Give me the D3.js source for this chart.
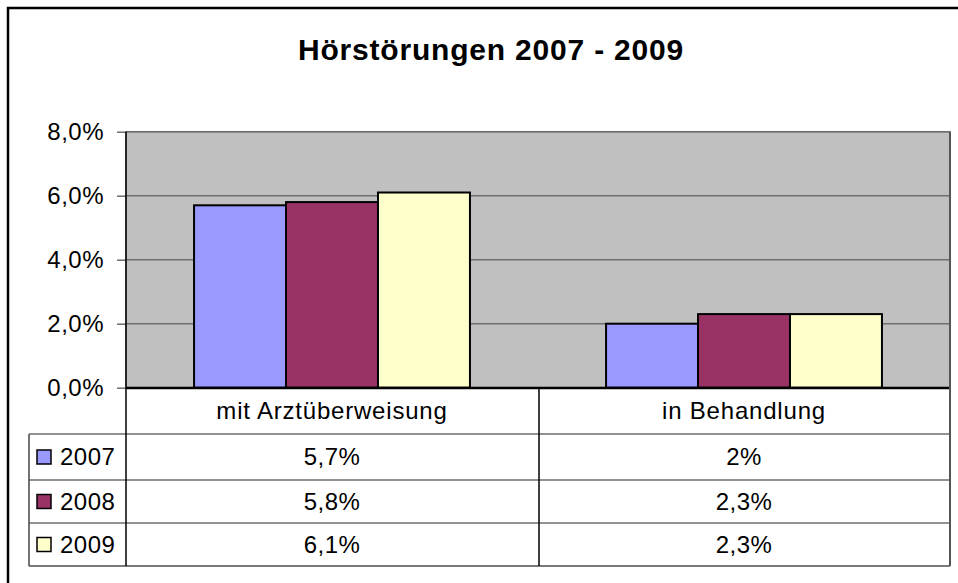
<!DOCTYPE html>
<html><head><meta charset="utf-8">
<script src="https://cdn.jsdelivr.net/npm/d3@7"></script>
<style>body{margin:0;background:#fff}svg{display:block;font-family:"Liberation Sans",Arial,sans-serif}</style>
</head><body><svg id="c" width="958" height="583"></svg>
<script>
const title = "Hörstörungen 2007 - 2009";
const categories = ["mit Arztüberweisung", "in Behandlung"];
const seriesNames = ["2007", "2008", "2009"];
const values2007 = [0.057, 0.02];
const values2008 = [0.058, 0.023];
const values2009 = [0.061, 0.023];
const tableLabels2007 = ["5,7%", "2%"];
const tableLabels2008 = ["5,8%", "2,3%"];
const tableLabels2009 = ["6,1%", "2,3%"];
const yTicks = [0, 0.02, 0.04, 0.06, 0.08];
const colors = ["#9999FF", "#993366", "#FFFFCC"];

const series = [
  {name: seriesNames[0], values: values2007, labels: tableLabels2007, color: colors[0]},
  {name: seriesNames[1], values: values2008, labels: tableLabels2008, color: colors[1]},
  {name: seriesNames[2], values: values2009, labels: tableLabels2009, color: colors[2]}
];

const svg = d3.select("#c");
const L = 126, R = 950, T = 131.7, B = 387.7;
const rowEdges = [388, 434, 480, 523, 566];
const tableLeft = 29, colDiv = 539;

// outer border
svg.append("path").attr("d", `M8,590 V8 H970`).attr("fill","none").attr("stroke","#000").attr("stroke-width",2.5);

svg.append("text").attr("x", 491).attr("y", 60).attr("text-anchor","middle")
  .attr("font-size", 30).attr("font-weight","bold").attr("letter-spacing", 0.8).text(title);

const x0 = d3.scaleBand().domain(categories).range([L, R]).paddingInner(0).paddingOuter(0);
const x1 = d3.scaleBand().domain(seriesNames).range([0, x0.bandwidth()]).paddingInner(0).paddingOuter(0.74);
const y = d3.scaleLinear().domain([0, 0.08]).range([B, T]);

// plot area
svg.append("rect").attr("x", L).attr("y", T).attr("width", R - L).attr("height", B - T)
  .attr("fill", "#C0C0C0").attr("stroke", "#808080").attr("stroke-width", 1.5);

// gridlines
svg.append("g").selectAll("line").data(yTicks.filter(d => d > 0)).join("line")
  .attr("x1", L).attr("x2", R).attr("y1", d => y(d)).attr("y2", d => y(d))
  .attr("stroke", "#6e6e6e").attr("stroke-width", 1.5);

// y axis
const yAxis = d3.axisLeft(y).tickValues(yTicks).tickSize(9).tickPadding(13)
  .tickFormat(d => d3.format(".1f")(d * 100).replace(".", ",") + "%");
const ga = svg.append("g").attr("transform", `translate(${L},0)`).call(yAxis);
ga.select(".domain").remove();
ga.selectAll(".tick line").attr("stroke", "#6e6e6e").attr("stroke-width", 1.5);
ga.selectAll(".tick text").attr("font-size", 24).attr("fill", "#000")
  .attr("font-family", '"Liberation Sans",Arial,sans-serif').attr("letter-spacing", 0.5);

// bars
const groups = svg.append("g").selectAll("g").data(series).join("g");
groups.selectAll("rect").data(s => categories.map((c, i) => ({c, v: s.values[i], name: s.name, color: s.color}))).join("rect")
  .attr("x", d => x0(d.c) + x1(d.name)).attr("width", x1.bandwidth())
  .attr("y", d => y(d.v)).attr("height", d => y(0) - y(d.v))
  .attr("fill", d => d.color).attr("stroke", "#000").attr("stroke-width", 2);

// table
const tg = svg.append("g");
tg.append("line").attr("x1", L).attr("x2", R).attr("y1", rowEdges[0]).attr("y2", rowEdges[0]).attr("stroke", "#000").attr("stroke-width", 2.5);
[1,2,3,4].forEach(i => {
  tg.append("line").attr("x1", tableLeft).attr("x2", R).attr("y1", rowEdges[i]).attr("y2", rowEdges[i])
    .attr("stroke", i === 4 ? "#7a7a7a" : "#6e6e6e").attr("stroke-width", i === 4 ? 2 : 1.5);
});
tg.append("line").attr("x1", tableLeft).attr("x2", tableLeft).attr("y1", rowEdges[1]).attr("y2", rowEdges[4]).attr("stroke", "#444").attr("stroke-width", 1.5);
tg.append("line").attr("x1", L).attr("x2", L).attr("y1", T).attr("y2", rowEdges[4]).attr("stroke", "#000").attr("stroke-width", 1.5);
tg.append("line").attr("x1", colDiv).attr("x2", colDiv).attr("y1", rowEdges[0]).attr("y2", rowEdges[4]).attr("stroke", "#000").attr("stroke-width", 1.5);
tg.append("line").attr("x1", R).attr("x2", R).attr("y1", T).attr("y2", rowEdges[4]).attr("stroke", "#555").attr("stroke-width", 2);

tg.selectAll("text.cat").data(categories).join("text").attr("class","cat")
  .attr("x", d => x0(d) + x0.bandwidth() / 2).attr("y", (rowEdges[0] + rowEdges[1]) / 2)
  .attr("dy", "0.35em").attr("text-anchor", "middle").attr("font-size", 24).attr("letter-spacing", 0.8).text(d => d);

series.forEach((s, i) => {
  const cy = (rowEdges[i + 1] + rowEdges[i + 2]) / 2;
  tg.append("rect").attr("x", 37).attr("y", cy - 7).attr("width", 14).attr("height", 14)
    .attr("fill", s.color).attr("stroke", "#000").attr("stroke-width", 1.5);
  tg.append("text").attr("x", 60).attr("y", cy).attr("dy", "0.35em").attr("font-size", 24).attr("letter-spacing", 0.5).text(s.name);
  categories.forEach((c, j) => {
    tg.append("text").attr("x", x0(c) + x0.bandwidth() / 2).attr("y", cy).attr("dy", "0.35em")
      .attr("text-anchor", "middle").attr("font-size", 24).attr("letter-spacing", 0.5).text(s.labels[j]);
  });
});
</script></body></html>
